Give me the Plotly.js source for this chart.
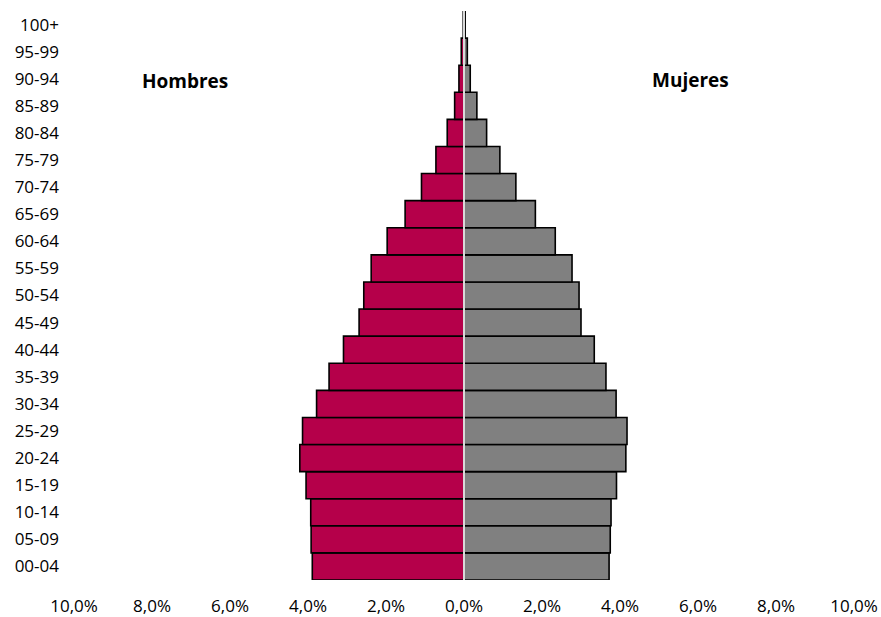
<!DOCTYPE html>
<html>
<head>
<meta charset="utf-8">
<script src="https://cdn.plot.ly/plotly-3.0.1.min.js"></script>
<style>html,body{margin:0;padding:0;background:#fff;}#chart{width:881px;height:617px;}</style>
</head>
<body>
<div id="chart"></div>
<script>
const ageGroups = ["00-04","05-09","10-14","15-19","20-24","25-29","30-34","35-39","40-44","45-49","50-54","55-59","60-64","65-69","70-74","75-79","80-84","85-89","90-94","95-99","100+"];
const hombres = [3.89,3.92,3.93,4.05,4.21,4.14,3.78,3.46,3.09,2.69,2.57,2.38,1.97,1.51,1.09,0.72,0.43,0.24,0.13,0.07,0.02];
const mujeres = [3.72,3.75,3.77,3.91,4.15,4.18,3.90,3.64,3.34,3.00,2.95,2.77,2.34,1.83,1.33,0.92,0.58,0.33,0.16,0.085,0.03];
const xTickVals = [-10,-8,-6,-4,-2,0,2,4,6,8,10];
const xTickText = ["10,0%","8,0%","6,0%","4,0%","2,0%","0,0%","2,0%","4,0%","6,0%","8,0%","10,0%"];

const FONT = "'Open Sans', 'Noto Sans', sans-serif";

const traces = [
  {type:'bar', orientation:'h', name:'Hombres', y:ageGroups, x:hombres.map(v=>-v),
   marker:{color:'#B5004A', line:{color:'#000', width:1.6}}, hoverinfo:'skip'},
  {type:'bar', orientation:'h', name:'Mujeres', y:ageGroups, x:mujeres,
   marker:{color:'#808080', line:{color:'#000', width:1.6}}, hoverinfo:'skip'}
];

const layout = {
  width:881, height:617,
  margin:{l:74, r:27, t:11, b:37},
  paper_bgcolor:'#fff', plot_bgcolor:'#fff',
  barmode:'relative', bargap:0,
  showlegend:false,
  font:{family:FONT, size:17, color:'#000'},
  xaxis:{range:[-10,10], tickvals:xTickVals, ticktext:xTickText, showgrid:false, zeroline:false,
         showline:false, ticks:'', tickfont:{family:FONT, size:17, color:'#000'}, ticklabelstandoff:14, fixedrange:true},
  yaxis:{type:'category', categoryorder:'array', categoryarray:ageGroups, showgrid:false, zeroline:false,
         showline:false, ticks:'', tickfont:{family:FONT, size:17, color:'#000'}, ticklabelstandoff:14, fixedrange:true},
  shapes:[{type:'line', xref:'x', yref:'paper', x0:0, x1:0, y0:0, y1:1, layer:'above',
           line:{color:'#D9D9D9', width:2}}],
  annotations:[
    {text:'<b>Hombres</b>', xref:'paper', yref:'paper', x:(185-74)/780, y:1-(81-11)/569, showarrow:false,
     xanchor:'center', yanchor:'middle', font:{family:FONT, size:19, color:'#000'}},
    {text:'<b>Mujeres</b>', xref:'paper', yref:'paper', x:(690-74)/780, y:1-(80-11)/569, showarrow:false,
     xanchor:'center', yanchor:'middle', font:{family:FONT, size:19, color:'#000'}}
  ]
};

Plotly.newPlot('chart', traces, layout, {displayModeBar:false, staticPlot:true});
</script>
</body>
</html>
